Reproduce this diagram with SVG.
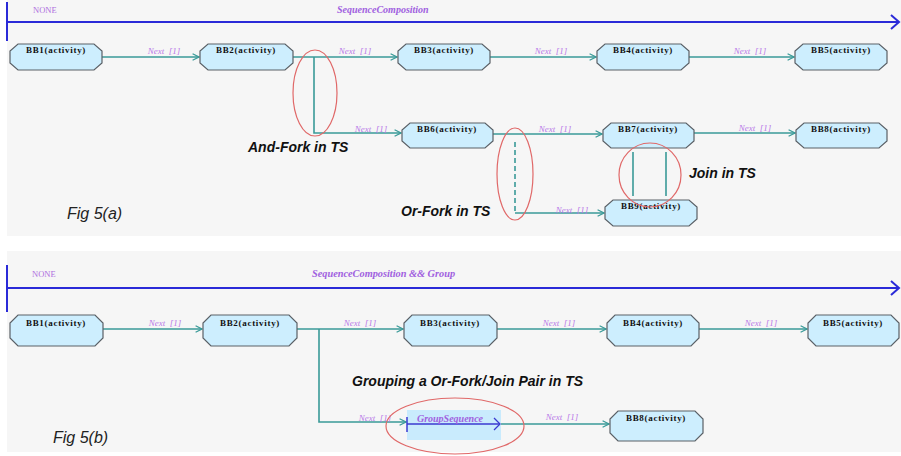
<svg xmlns="http://www.w3.org/2000/svg" width="901" height="456" viewBox="0 0 901 456">
<style>
.bg{fill:#f6f6f6}
.box{fill:#cdeefe;stroke:#5a6066;stroke-width:1.2}
.bt{font-family:"Liberation Serif",serif;font-weight:bold;font-size:9px;letter-spacing:0.7px;fill:#111;text-anchor:middle}
.lbl{font-family:"Liberation Serif",serif;font-style:italic;font-size:9px;fill:#b878e8;text-anchor:middle;white-space:pre}
.ttl{font-family:"Liberation Serif",serif;font-style:italic;font-weight:bold;font-size:10px;fill:#a060e0}
.none{font-family:"Liberation Serif",serif;font-size:8.5px;fill:#b070e0}
.con{fill:none;stroke:#3a9a98;stroke-width:1.6}
.dash{stroke-dasharray:5,3}
.seq{fill:none;stroke:#2a2ad8;stroke-width:2}
.ell{fill:none;stroke:#e06868;stroke-width:1.2}
.note{font-family:"Liberation Sans",Arial,sans-serif;font-style:italic;font-weight:bold;font-size:14px;fill:#111}
.fig{font-family:"Liberation Sans",Arial,sans-serif;font-style:italic;font-size:16px;fill:#222}
</style>
<defs>
<marker id="arr" viewBox="0 0 10 10" refX="9" refY="5" markerWidth="8" markerHeight="8" markerUnits="userSpaceOnUse" orient="auto">
<path d="M1,1 L9,5 L1,9" fill="none" stroke="#3a9a98" stroke-width="1.6"/>
</marker>
</defs>
<rect class="bg" x="7" y="0" width="894" height="236"/>
<rect class="bg" x="7" y="251" width="894" height="201"/>

<!-- Top sequence header -->
<g id="seqA">
<line class="seq" x1="7" y1="2" x2="7" y2="41"/>
<line class="seq" x1="7" y1="22" x2="899" y2="22"/>
<polyline class="seq" points="891,15 899,22 891,29"/>
<text class="none" x="33" y="13">NONE</text>
<text class="ttl" x="337" y="13">SequenceComposition</text>
</g>

<!-- Top connectors -->
<g id="connectorsA">
<line class="con" x1="102" y1="57" x2="199" y2="57" marker-end="url(#arr)"/>
<line class="con" x1="293" y1="57" x2="397" y2="57" marker-end="url(#arr)"/>
<line class="con" x1="490" y1="57" x2="596" y2="57" marker-end="url(#arr)"/>
<line class="con" x1="689" y1="57" x2="794" y2="57" marker-end="url(#arr)"/>
<polyline class="con" points="314,57 314,133 401,133" marker-end="url(#arr)"/>
<line class="con" x1="493" y1="134" x2="602" y2="134" marker-end="url(#arr)"/>
<line class="con dash" x1="515" y1="142" x2="515" y2="213"/>
<line class="con" x1="515" y1="213" x2="604" y2="213" marker-end="url(#arr)"/>
<line class="con" x1="694" y1="133" x2="795" y2="133" marker-end="url(#arr)"/>
<line class="con" x1="633" y1="152" x2="633" y2="196"/>
<line class="con" x1="666" y1="152" x2="666" y2="196"/>
<text class="lbl" x="164" y="54">Next  [1]</text>
<text class="lbl" x="355" y="54">Next  [1]</text>
<text class="lbl" x="551" y="54">Next  [1]</text>
<text class="lbl" x="750" y="54">Next  [1]</text>
<text class="lbl" x="371" y="132">Next  [1]</text>
<text class="lbl" x="555" y="132">Next  [1]</text>
<text class="lbl" x="572" y="213">Next  [1]</text>
<text class="lbl" x="755" y="131">Next  [1]</text>
</g>

<!-- Top nodes -->
<g id="a_bb1"><polygon class="box" points="18,44 94,44 102,51 102,63 94,70 18,70 10,63 10,51"/><text class="bt" x="56" y="53">BB1(activity)</text></g>
<g id="a_bb2"><polygon class="box" points="208,44 285,44 293,51 293,63 285,70 208,70 200,63 200,51"/><text class="bt" x="246" y="53">BB2(activity)</text></g>
<g id="a_bb3"><polygon class="box" points="406,44 482,44 490,51 490,63 482,70 406,70 398,63 398,51"/><text class="bt" x="444" y="53">BB3(activity)</text></g>
<g id="a_bb4"><polygon class="box" points="605,44 681,44 689,51 689,63 681,70 605,70 597,63 597,51"/><text class="bt" x="643" y="53">BB4(activity)</text></g>
<g id="a_bb5"><polygon class="box" points="803,44 879,44 887,51 887,63 879,70 803,70 795,63 795,51"/><text class="bt" x="841" y="53">BB5(activity)</text></g>
<g id="a_bb6"><polygon class="box" points="410,123 485,123 493,130 493,141 485,148 410,148 402,141 402,130"/><text class="bt" x="447" y="132">BB6(activity)</text></g>
<g id="a_bb7"><polygon class="box" points="611,123 686,123 694,130 694,141 686,148 611,148 603,141 603,130"/><text class="bt" x="648" y="132">BB7(activity)</text></g>
<g id="a_bb8"><polygon class="box" points="804,123 879,123 887,130 887,141 879,148 804,148 796,141 796,130"/><text class="bt" x="841" y="132">BB8(activity)</text></g>
<g id="a_bb9"><polygon class="box" points="613,200 689,200 697,207 697,219 689,226 613,226 605,219 605,207"/><text class="bt" x="651" y="209">BB9(activity)</text></g>

<!-- Top annotations -->
<g id="annotA">
<ellipse class="ell" cx="315" cy="93" rx="22" ry="43"/>
<ellipse class="ell" cx="515" cy="174" rx="18" ry="46"/>
<ellipse class="ell" cx="650" cy="175" rx="31" ry="32"/>
<text class="note" x="248" y="152">And-Fork in TS</text>
<text class="note" x="401" y="216">Or-Fork in TS</text>
<text class="note" x="689" y="178">Join in TS</text>
<text class="fig" x="67" y="219">Fig 5(a)</text>
</g>

<!-- Bottom sequence header -->
<g id="seqB">
<line class="seq" x1="7" y1="265" x2="7" y2="312"/>
<line class="seq" x1="7" y1="288" x2="899" y2="288"/>
<polyline class="seq" points="891,281 899,288 891,295"/>
<text class="none" x="32" y="277">NONE</text>
<text class="ttl" x="312" y="277" style="font-size:10.3px">SequenceComposition &amp;&amp; Group</text>
</g>

<!-- Bottom connectors -->
<g id="connectorsB">
<line class="con" x1="103" y1="329" x2="202" y2="329" marker-end="url(#arr)"/>
<line class="con" x1="297" y1="329" x2="403" y2="329" marker-end="url(#arr)"/>
<line class="con" x1="497" y1="329" x2="606" y2="329" marker-end="url(#arr)"/>
<line class="con" x1="699" y1="329" x2="807" y2="329" marker-end="url(#arr)"/>
<polyline class="con" points="319,329 319,422 406,422" marker-end="url(#arr)"/>
<line class="con" x1="501" y1="424" x2="609" y2="424" marker-end="url(#arr)"/>
<text class="lbl" x="165" y="326">Next  [1]</text>
<text class="lbl" x="360" y="326">Next  [1]</text>
<text class="lbl" x="559" y="326">Next  [1]</text>
<text class="lbl" x="761" y="326">Next  [1]</text>
<text class="lbl" x="375" y="421">Next  [1]</text>
<text class="lbl" x="562" y="420">Next  [1]</text>
</g>

<!-- Bottom nodes -->
<g id="b_bb1"><polygon class="box" points="18,315 95,315 103,323 103,338 95,346 18,346 10,338 10,323"/><text class="bt" x="56" y="326">BB1(activity)</text></g>
<g id="b_bb2"><polygon class="box" points="211,315 289,315 297,323 297,338 289,346 211,346 203,338 203,323"/><text class="bt" x="250" y="326">BB2(activity)</text></g>
<g id="b_bb3"><polygon class="box" points="412,315 489,315 497,323 497,338 489,346 412,346 404,338 404,323"/><text class="bt" x="450" y="326">BB3(activity)</text></g>
<g id="b_bb4"><polygon class="box" points="615,315 691,315 699,323 699,338 691,346 615,346 607,338 607,323"/><text class="bt" x="653" y="326">BB4(activity)</text></g>
<g id="b_bb5"><polygon class="box" points="816,315 891,315 899,323 899,338 891,346 816,346 808,338 808,323"/><text class="bt" x="853" y="326">BB5(activity)</text></g>
<g id="b_bb8"><polygon class="box" points="618,411 695,411 703,419 703,433 695,441 618,441 610,433 610,419"/><text class="bt" x="656" y="421">BB8(activity)</text></g>
<g id="b_group">
<rect x="407" y="410" width="94" height="30" fill="#c9ebfd"/>
<line x1="407" y1="424" x2="500" y2="424" stroke="#3a3ad0" stroke-width="1.3"/>
<line x1="407" y1="417" x2="407" y2="432" stroke="#3a3ad0" stroke-width="1.5"/>
<polyline points="494,418 500,424 494,430" fill="none" stroke="#3a3ad0" stroke-width="1.3"/>
<text class="ttl" x="450" y="422" text-anchor="middle">GroupSequence</text>
</g>

<!-- Bottom annotations -->
<g id="annotB">
<ellipse class="ell" cx="455" cy="426" rx="69" ry="28"/>
<text class="note" x="352" y="386">Grouping a Or-Fork/Join Pair in TS</text>
<text class="fig" x="53" y="443">Fig 5(b)</text>
</g>
</svg>
